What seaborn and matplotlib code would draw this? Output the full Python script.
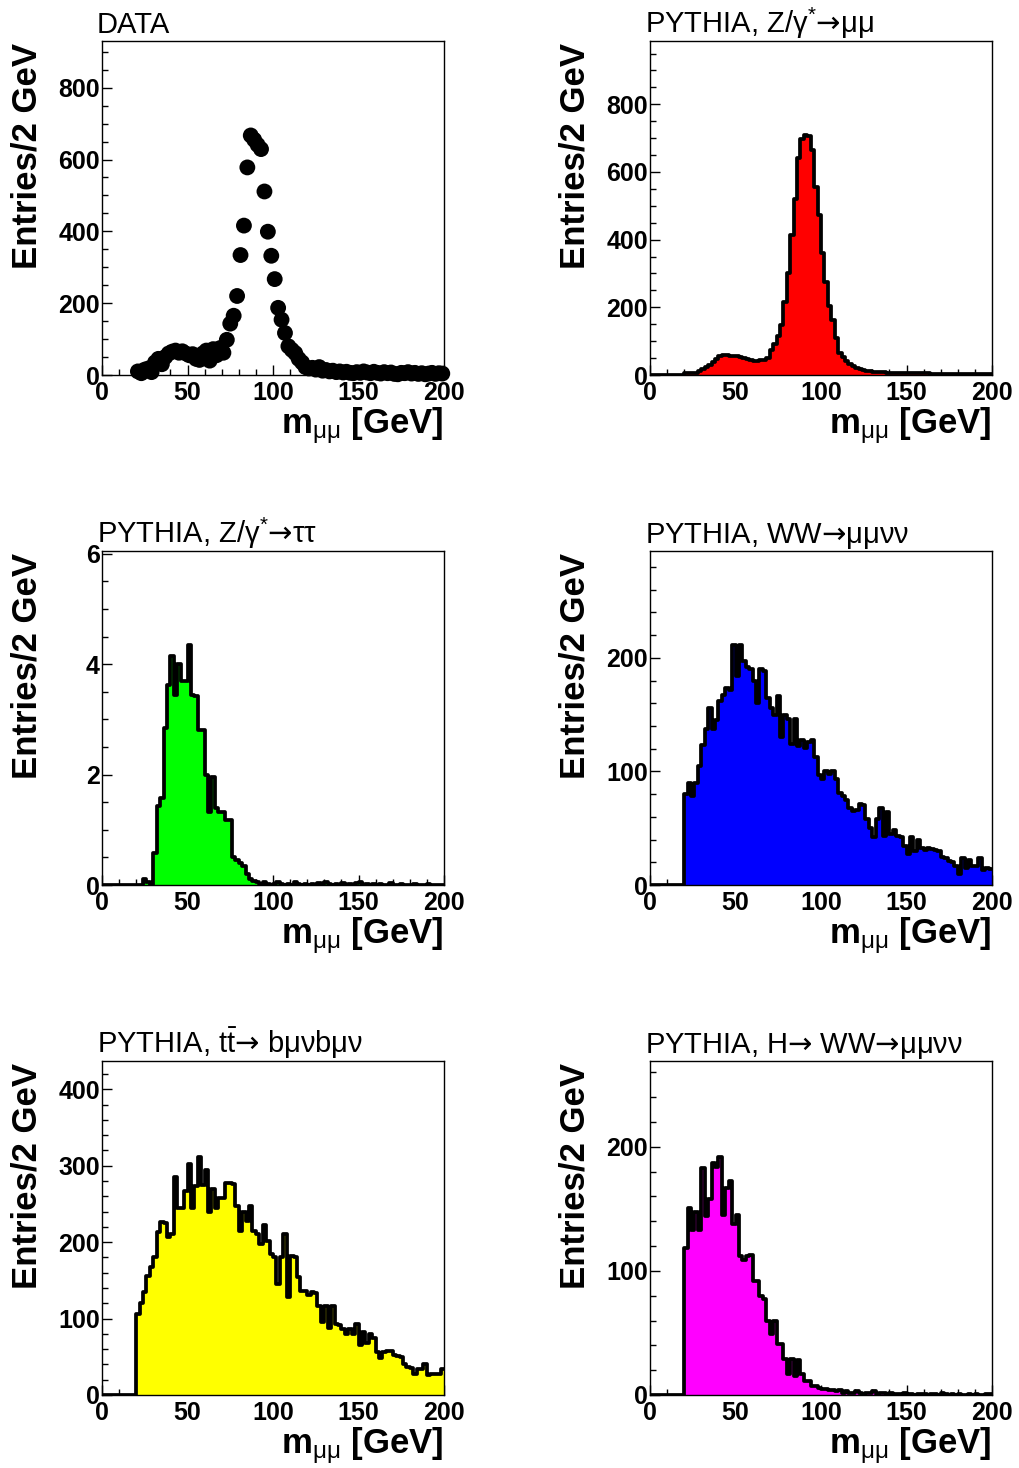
import numpy as np
import pandas as pd
import matplotlib
matplotlib.use("Agg")
import matplotlib.pyplot as plt
from matplotlib.ticker import MultipleLocator, FuncFormatter
import seaborn as sns

# ---------------- data (2 GeV bins, 0-200 GeV) ----------------
bin_edges = list(range(0, 202, 2))

data_x = list(range(21, 200, 2))
data_y = [10, 5, 15, 18, 8, 35, 45, 30, 50, 60,
          65, 68, 62, 66, 60, 55, 58, 45, 42, 60,
          68, 40, 72, 55, 75, 62, 98, 143, 165, 220,
          334, 416, 578, 667, 655, 641, 629, 511, 399, 332,
          267, 187, 154, 117, 80, 70, 61, 45, 35, 22,
          18, 20, 15, 22, 12, 14, 10, 12, 8, 10,
          7, 9, 6, 5, 8, 6, 10, 7, 5, 9,
          6, 4, 8, 5, 7, 3, 2, 6, 5, 8,
          4, 6, 3, 5, 2, 4, 6, 3, 5, 4]

zmumu = [0, 0, 0, 0, 0, 0, 0, 0, 0, 0,
         5, 5, 6, 7, 12, 18, 24, 30, 38, 48,
         56, 60, 58, 57, 56, 55, 52, 49, 47, 45,
         41, 42, 43, 45, 50, 75, 92, 114, 149, 215,
         300, 415, 520, 641, 697, 710, 707, 665, 555, 474,
         360, 275, 203, 163, 109, 65, 53, 40, 32, 26,
         22, 18, 15, 13, 11, 10, 9, 8, 8, 7,
         7, 6, 6, 6, 6, 5, 5, 5, 5, 5,
         5, 5, 4, 4, 4, 4, 4, 4, 4, 4,
         4, 4, 3, 3, 3, 3, 3, 3, 3, 3]

ztautau = [0, 0, 0, 0, 0, 0, 0, 0, 0, 0,
           0, 0, 0.1, 0.05, 0, 0.58, 1.43, 1.58, 2.84, 3.63,
           4.15, 3.45, 4.0, 3.7, 3.7, 4.35, 3.45, 3.42, 2.8, 2.8,
           2.0, 1.33, 1.95, 1.4, 1.33, 1.33, 1.18, 1.18, 0.5, 0.45,
           0.4, 0.35, 0.2, 0.1, 0.08, 0.05, 0.02, 0.05, 0.02, 0.0,
           0.02, 0.05, 0.02, 0.0, 0.02, 0.0, 0.05, 0.02, 0.0, 0.02,
           0.0, 0.02, 0.0, 0.03, 0.0, 0.05, 0.02, 0.0, 0.02, 0.0,
           0.03, 0.0, 0.02, 0.0, 0.03, 0.05, 0.0, 0.02, 0.0, 0.02,
           0.0, 0.02, 0.0, 0.0, 0.03, 0.0, 0.0, 0.02, 0.0, 0.0,
           0.0, 0.02, 0.0, 0.0, 0.0, 0.02, 0.0, 0.0, 0.0, 0.0]

ww = [0, 0, 0, 0, 0, 0, 0, 0, 0, 0,
      80, 90, 78, 90, 105, 123, 137, 156, 137, 145,
      162, 167, 173, 172, 211, 184, 211, 197, 192, 190,
      180, 160, 190, 188, 165, 156, 150, 166, 130, 150,
      146, 124, 146, 122, 128, 121, 126, 128, 113, 97,
      93, 100, 98, 100, 93, 81, 78, 75, 68, 65,
      66, 71, 70, 58, 50, 42, 58, 68, 43, 64,
      45, 48, 43, 42, 34, 27, 42, 30, 40, 33,
      31, 33, 32, 31, 30, 25, 24, 21, 20, 17,
      10, 24, 15, 22, 17, 17, 24, 13, 15, 14]

ttbar = [0, 0, 0, 0, 0, 0, 0, 0, 0, 0,
         106, 121, 135, 156, 167, 180, 213, 227, 225, 207,
         210, 285, 245, 245, 267, 302, 245, 273, 312, 275,
         295, 240, 269, 245, 258, 258, 278, 278, 276, 247,
         214, 240, 228, 247, 214, 210, 198, 223, 202, 184,
         181, 145, 180, 210, 128, 182, 180, 154, 136, 136,
         131, 135, 134, 117, 95, 117, 88, 117, 93, 92,
         86, 80, 86, 80, 93, 66, 82, 68, 80, 75,
         56, 48, 56, 58, 57, 52, 51, 50, 40, 37,
         35, 28, 34, 34, 40, 26, 27, 27, 28, 34]

hww = [0, 0, 0, 0, 0, 0, 0, 0, 0, 0,
       118, 151, 133, 147, 133, 183, 144, 158, 187, 184,
       192, 145, 167, 172, 138, 145, 112, 109, 112, 113,
       92, 92, 80, 77, 60, 49, 60, 41, 41, 29,
       17, 29, 15, 28, 17, 11, 11, 7, 7, 6,
       5, 5, 4, 4, 3, 4, 2, 3, 2, 2,
       3, 2, 1, 2, 2, 3, 1, 2, 2, 1,
       2, 1, 1, 1, 2, 1, 1, 0, 1, 1,
       1, 0, 1, 1, 0, 2, 1, 0, 1, 0,
       1, 0, 0, 1, 0, 1, 0, 0, 1, 1]

titles = ["DATA",
          r"PYTHIA, Z/γ$^{*}\mathsf{→}$μμ",
          r"PYTHIA, Z/γ$^{*}\mathsf{→}$ττ",
          r"PYTHIA, WW$\mathsf{→}$μμνν",
          r"PYTHIA, t$\mathrm{\bar{t}}\mathsf{→}$ bμνbμν",
          r"PYTHIA, H$\mathsf{→}$ WW$\mathsf{→}$μμνν"]
x_title = r"m$_{\mathrm{μμ}}$ [GeV]"
y_title = "Entries/2 GeV"
hist_series = [None, zmumu, ztautau, ww, ttbar, hww]
fill_colors = [None, "#ff0000", "#00ff00", "#0000ff", "#ffff00", "#ff00ff"]
y_max = [930, 987, 6.05, 294, 437, 269]
y_major = [200, 200, 2, 100, 100, 100]
y_minor = [50, 50, 0.5, 20, 20, 20]

# ---------------- style ----------------
sns.set_style("ticks")
plt.rcParams["font.family"] = ["Liberation Sans", "DejaVu Sans"]
plt.rcParams["mathtext.fontset"] = "custom"
plt.rcParams["mathtext.rm"] = "Liberation Sans"
plt.rcParams["mathtext.it"] = "Liberation Sans:italic"
plt.rcParams["mathtext.bf"] = "Liberation Sans:bold"
plt.rcParams["mathtext.sf"] = "DejaVu Sans"
for key in ["text.color", "axes.labelcolor", "xtick.color", "ytick.color",
            "axes.edgecolor"]:
    plt.rcParams[key] = "black"

W, H = 1019, 1468
fig = plt.figure(figsize=(W / 100, H / 100), dpi=100)

col_left = [102, 650]
row_top = [41, 551, 1061]
ax_w, ax_h = 342, 334

centers = [(bin_edges[k] + bin_edges[k + 1]) / 2 for k in range(len(bin_edges) - 1)]

for i in range(6):
    r, c = divmod(i, 2)
    l = col_left[c] / W
    b = 1 - (row_top[r] + ax_h) / H
    ax = fig.add_axes([l, b, ax_w / W, ax_h / H])

    if i == 0:
        df = pd.DataFrame({"m": data_x, "n": data_y})
        sns.scatterplot(data=df, x="m", y="n", color="black", s=130,
                        edgecolor="none", clip_on=False, zorder=5, ax=ax)
    else:
        df = pd.DataFrame({"m": centers, "w": [float(v) for v in hist_series[i]]})
        sns.histplot(data=df, x="m", weights="w", bins=bin_edges, element="step",
                     fill=True, color=fill_colors[i], alpha=1, linewidth=0,
                     ax=ax)
        sns.histplot(data=df, x="m", weights="w", bins=bin_edges, element="step",
                     fill=False, color="black", linewidth=2.7, ax=ax)

    ax.set_xlim(0, 200)
    ax.set_ylim(0, y_max[i])
    ax.xaxis.set_major_locator(MultipleLocator(50))
    ax.xaxis.set_minor_locator(MultipleLocator(10))
    ax.yaxis.set_major_locator(MultipleLocator(y_major[i]))
    ax.yaxis.set_minor_locator(MultipleLocator(y_minor[i]))
    ax.yaxis.set_major_formatter(FuncFormatter(lambda v, p: f"{v:g}"))

    ax.tick_params(which="both", direction="in", top=False, right=False,
                   width=1, colors="black")
    ax.tick_params(which="major", length=7.5, labelsize=18)
    ax.tick_params(which="minor", length=4)
    ax.tick_params(axis="y", which="major", pad=1.5)
    ax.tick_params(axis="x", which="major", pad=4.5)
    for lab in ax.get_xticklabels() + ax.get_yticklabels():
        lab.set_fontweight("bold")

    for sp in ax.spines.values():
        sp.set_visible(True)
        sp.set_linewidth(1.0)
        sp.set_color("black")

    ax.set_ylabel(y_title, fontsize=25, fontweight="bold", loc="top")
    ax.yaxis.set_label_coords(-0.17, 0.995)
    ax.set_xlabel(x_title, fontsize=25, fontweight="bold", loc="right")
    ax.xaxis.set_label_coords(1.0, -0.09)

    ax.text(-0.015, 1.025, titles[i], transform=ax.transAxes, fontsize=21,
            ha="left", va="baseline", color="black")

fig.savefig("out.png", dpi=100)
